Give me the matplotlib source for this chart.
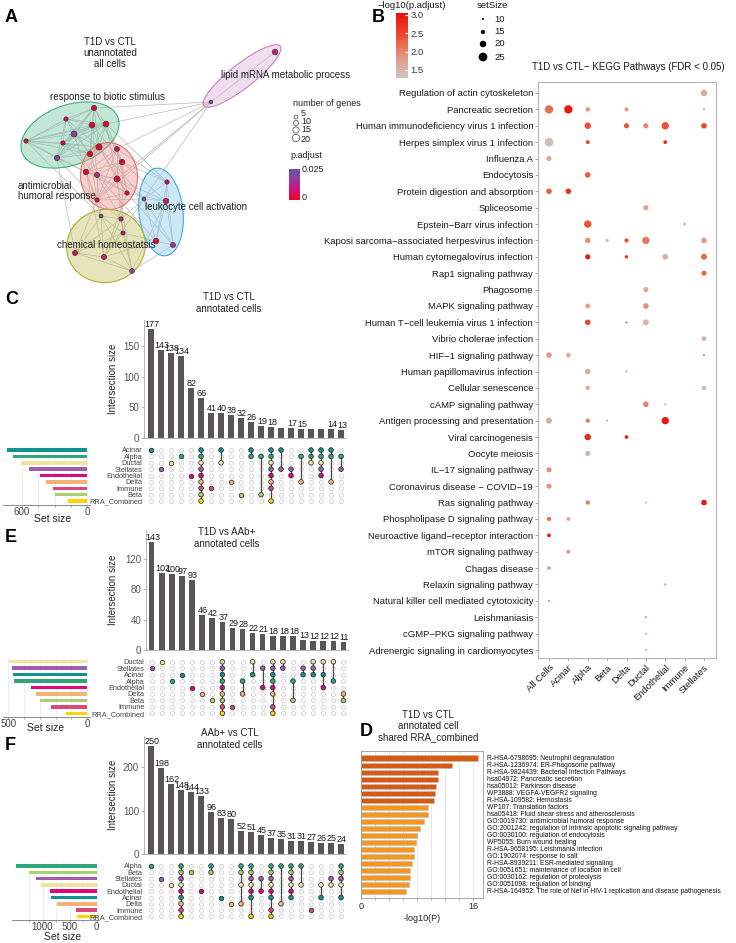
import itertools
import numpy as np
import matplotlib
matplotlib.use("Agg")
import matplotlib.pyplot as plt
import matplotlib.transforms as mtransforms
from matplotlib.patches import Ellipse
from matplotlib.colors import LinearSegmentedColormap, to_rgba

plt.rcParams['font.family'] = ['Liberation Sans', 'DejaVu Sans']

W, H = 736, 943
fig = plt.figure(figsize=(W / 100, H / 100), dpi=100)


def px_axes(x0, y0, x1, y1):
    # axes placed by pixel box (top-left origin)
    return fig.add_axes([x0 / W, 1 - y1 / H, (x1 - x0) / W, (y1 - y0) / H])


def ftext(x, y, s, **kw):
    fig.text(x / W, 1 - y / H, s, **kw)


# ---------------- data: panel A (enrichment map) ----------------
node_x = [94, 66, 92, 106, 74, 63, 26, 99, 90, 57,
          117, 122, 86, 97, 117, 127, 97,
          167, 144, 166, 156, 173,
          101, 121, 123, 75, 104, 132,
          275, 211]
node_y = [108, 119, 125, 124, 134, 143, 141, 147, 154, 158,
          149, 162, 172, 175, 179, 193, 200,
          182, 199, 201, 241, 245,
          216, 219, 233, 253, 257, 271,
          52, 102]
node_genes = [11, 7, 13, 13, 14, 7, 7, 15, 12, 11,
              9, 12, 12, 10, 14, 7, 7,
              7, 5, 11, 12, 10,
              5, 7, 6, 10, 10, 9,
              12, 4]
node_padj = [0.002, 0.003, 0.001, 0.001, 0.018, 0.003, 0.004, 0.001, 0.002, 0.019,
             0.003, 0.001, 0.002, 0.012, 0.001, 0.003, 0.004,
             0.004, 0.020, 0.008, 0.002, 0.013,
             0.025, 0.010, 0.004, 0.003, 0.010, 0.018,
             0.009, 0.025]
clusters = [list(range(0, 10)), list(range(10, 17)), list(range(17, 22)),
            list(range(22, 28)), [28, 29]]
cross_edges = [(0, 10), (2, 11), (3, 14), (7, 12), (8, 13), (4, 12), (7, 14), (3, 10),
               (8, 16), (9, 12), (2, 13), (0, 11), (6, 12), (5, 13), (7, 15), (9, 16),
               (11, 17), (14, 18), (15, 19), (10, 17), (14, 19), (16, 18), (13, 20),
               (15, 21), (11, 19), (12, 22), (13, 23), (14, 24), (16, 25), (15, 26),
               (12, 26), (16, 23), (14, 27), (13, 22), (11, 24), (18, 23), (20, 24),
               (19, 27), (21, 27), (18, 26), (20, 26), (9, 25), (6, 22), (3, 17),
               (7, 18), (29, 0), (29, 10), (29, 3), (29, 14), (29, 16), (29, 18)]
cluster_labels = ["response to biotic stimulus", "antimicrobial\nhumoral response",
                  "leukocyte cell activation", "chemical homeostatsis",
                  "lipid mRNA metabolic process"]

# ---------------- data: panel B (KEGG dot plot) ----------------
kegg_pathways = [
    "Regulation of actin cytoskeleton", "Pancreatic secretion",
    "Human immunodeficiency virus 1 infection", "Herpes simplex virus 1 infection",
    "Influenza A", "Endocytosis", "Protein digestion and absorption", "Spliceosome",
    "Epstein\u2212Barr virus infection", "Kaposi sarcoma\u2212associated herpesvirus infection",
    "Human cytomegalovirus infection", "Rap1 signaling pathway", "Phagosome",
    "MAPK signaling pathway", "Human T\u2212cell leukemia virus 1 infection",
    "Vibrio cholerae infection", "HIF\u22121 signaling pathway",
    "Human papillomavirus infection", "Cellular senescence", "cAMP signaling pathway",
    "Antigen processing and presentation", "Viral carcinogenesis", "Oocyte meiosis",
    "IL\u221217 signaling pathway", "Coronavirus disease \u2212 COVID\u221219",
    "Ras signaling pathway", "Phospholipase D signaling pathway",
    "Neuroactive ligand\u2212receptor interaction", "mTOR signaling pathway",
    "Chagas disease", "Relaxin signaling pathway",
    "Natural killer cell mediated cytotoxicity", "Leishmaniasis",
    "cGMP\u2212PKG signaling pathway", "Adrenergic signaling in cardiomyocytes"]
cell_types_b = ["All Cells", "Acinar", "Alpha", "Beta", "Delta", "Ductal",
                "Endothelial", "Immune", "Stellates"]
dot_row = [0, 1, 1, 1, 1, 1, 2, 2, 2, 2, 2, 3, 3, 3, 4, 5, 6, 6, 7, 8, 8,
           9, 9, 9, 9, 9, 10, 10, 10, 10, 11, 12, 13, 13, 14, 14, 14, 15,
           16, 16, 16, 17, 17, 18, 18, 19, 19, 20, 20, 20, 20, 21, 21, 22,
           23, 24, 25, 25, 25, 26, 26, 27, 28, 29, 30, 31, 32, 33, 34]
dot_cell = ["Stellates",
            "All Cells", "Acinar", "Alpha", "Delta", "Stellates",
            "Alpha", "Delta", "Ductal", "Endothelial", "Stellates",
            "All Cells", "Alpha", "Endothelial",
            "All Cells", "Alpha", "All Cells", "Acinar", "Ductal",
            "Alpha", "Immune",
            "Alpha", "Beta", "Delta", "Ductal", "Stellates",
            "Alpha", "Delta", "Endothelial", "Stellates",
            "Stellates", "Ductal", "Alpha", "Ductal",
            "Alpha", "Delta", "Ductal", "Stellates",
            "All Cells", "Acinar", "Stellates", "Alpha", "Delta",
            "Alpha", "Stellates", "Ductal", "Endothelial",
            "All Cells", "Alpha", "Beta", "Endothelial",
            "Alpha", "Delta", "Alpha", "All Cells", "All Cells",
            "Alpha", "Ductal", "Stellates", "All Cells", "Acinar",
            "All Cells", "Acinar", "All Cells", "Endothelial", "All Cells",
            "Ductal", "Ductal", "Ductal"]
dot_setsize = [20,
               24, 24, 15, 15, 11,
               20, 17, 17, 22, 18,
               25, 14, 14,
               17, 18, 18, 18, 17,
               22, 12,
               18, 13, 15, 22, 18,
               17, 13, 18, 19,
               17, 17, 16, 18,
               18, 10, 19, 16,
               18, 16, 10, 18, 10,
               15, 15, 18, 10,
               19, 15, 10, 22,
               20, 14, 17, 17, 17,
               15, 10, 18, 15, 14,
               14, 15, 15, 10, 10,
               10, 10, 10]
dot_logp = [1.6,
            2.2, 3.0, 1.9, 1.8, 1.6,
            2.4, 2.4, 2.0, 2.4, 2.5,
            1.4, 2.6, 2.8,
            1.7, 2.3, 2.3, 2.7, 1.7,
            2.4, 1.5,
            1.9, 1.4, 2.4, 2.1, 1.8,
            3.0, 2.8, 1.6, 2.2,
            2.2, 1.6, 1.8, 1.9,
            2.5, 2.2, 1.5, 1.5,
            1.8, 1.6, 2.3, 1.6, 1.8,
            1.7, 1.6, 2.0, 1.6,
            1.6, 2.1, 1.8, 3.0,
            2.8, 2.8, 1.5, 1.9, 1.9,
            2.1, 1.6, 3.0, 2.2, 1.7,
            3.0, 1.7, 1.5, 2.0, 2.0,
            2.0, 1.8, 1.7]

# ---------------- data: UpSet panels C, E, F ----------------
set_colors = {"Acinar": "#12938F", "Alpha": "#2FA67A", "Ductal": "#EDE59E",
              "Stellates": "#A05DAF", "Endothelial": "#E0077D", "Delta": "#F3B276",
              "Immune": "#D6497A", "Beta": "#A9CF6E", "RRA_Combined": "#FFD400"}

c_sets = ["Acinar", "Alpha", "Ductal", "Stellates", "Endothelial", "Delta",
          "Immune", "Beta", "RRA_Combined"]
c_set_sizes = [738, 686, 609, 535, 434, 378, 317, 295, 175]
c_inter = [177, 143, 138, 134, 82, 66, 41, 40, 38, 32, 26, 19, 18, 17, 17, 15, 15, 14, 14, 13]
c_shown = [1, 1, 1, 1, 1, 1, 1, 1, 1, 1, 1, 1, 1, 0, 1, 1, 0, 0, 1, 1]
c_combos = [["Acinar"], ["Stellates"], ["Ductal"], ["Alpha"], ["Endothelial"],
            c_sets, ["Immune"], ["Acinar", "Ductal"], ["Delta"], ["Beta"],
            ["Acinar", "Alpha"], ["Alpha", "Beta"],
            ["Acinar", "Alpha", "Ductal", "Stellates", "Endothelial", "Delta", "Immune",
             "RRA_Combined"],
            ["Acinar", "Stellates"], ["Stellates", "Endothelial"], ["Alpha", "Delta"],
            ["Acinar", "Alpha", "Ductal"],
            ["Acinar", "Alpha", "Ductal", "Stellates", "Endothelial"],
            ["Acinar", "Alpha", "Delta"], ["Alpha", "Stellates"]]

e_sets = ["Ductal", "Stellates", "Acinar", "Alpha", "Endothelial", "Delta", "Beta",
          "Immune", "RRA_Combined"]
e_set_sizes = [496, 479, 469, 465, 355, 324, 297, 231, 133]
e_inter = [143, 102, 100, 97, 93, 46, 42, 37, 29, 28, 22, 21, 18, 18, 18, 13, 12, 12, 12, 11]
e_shown = [1] * 20
e_combos = [["Stellates"], ["Ductal"], ["Alpha"], ["Acinar"], ["Endothelial"], ["Delta"],
            ["Beta"], e_sets, ["Immune"], ["Alpha", "Delta"], ["Ductal", "Acinar"],
            ["Stellates", "Endothelial"],
            ["Ductal", "Stellates", "Acinar", "Alpha", "Endothelial", "Delta", "Immune",
             "RRA_Combined"],
            ["Ductal", "Stellates"], ["Alpha", "Beta"], ["Stellates", "Acinar"],
            ["Ductal", "Stellates", "Acinar"], ["Ductal", "Acinar", "Endothelial"],
            ["Ductal", "Alpha"], ["Delta", "Beta"]]

f_sets = ["Alpha", "Beta", "Stellates", "Ductal", "Endothelial", "Acinar", "Delta",
          "Immune", "RRA_Combined"]
f_set_sizes = [1491, 1244, 1120, 1033, 861, 848, 726, 380, 356]
f_inter = [250, 198, 162, 148, 144, 133, 96, 83, 80, 52, 51, 45, 37, 35, 31, 31, 27, 26, 25, 24]
f_shown = [1] * 20
f_combos = [["Alpha"], ["Stellates"], ["Ductal"], f_sets, ["Beta"], ["Endothelial"],
            ["Alpha", "Beta"], ["Acinar"], ["Delta"], ["Alpha", "Beta", "Ductal", "Delta"],
            ["Alpha", "Beta", "Stellates", "Ductal", "Endothelial", "Acinar", "RRA_Combined"],
            ["Stellates", "Endothelial"],
            ["Alpha", "Beta", "Stellates", "Ductal", "Endothelial", "Acinar", "Immune",
             "RRA_Combined"],
            ["Alpha", "Delta"],
            ["Alpha", "Beta", "Stellates", "Ductal", "Endothelial", "Acinar"],
            ["Alpha", "Ductal"], ["Immune"], ["Ductal", "Acinar"], ["Stellates", "Ductal"],
            ["Alpha", "Beta", "Stellates", "Ductal", "Acinar"]]

# ---------------- data: panel D (Metascape bars) ----------------
d_terms = ["R-HSA-6798695: Neutrophil degranulation",
           "R-HSA-1236974: ER-Phagosome pathway",
           "R-HSA-9824439: Bacterial Infection Pathways",
           "hsa04972: Pancreatic secretion",
           "hsa05012: Parkinson disease",
           "WP3888: VEGFA-VEGFR2 signaling",
           "R-HSA-109582: Hemostasis",
           "WP107: Translation factors",
           "hsa05418: Fluid shear stress and atherosclerosis",
           "GO:0019730: antimicrobial humoral response",
           "GO:2001242: regulation of intrinsic apoptotic signaling pathway",
           "GO:0030100: regulation of endocytosis",
           "WP5055: Burn wound healing",
           "R-HSA-9658195: Leishmania infection",
           "GO:1902074: response to salt",
           "R-HSA-8939211: ESR-mediated signaling",
           "GO:0051651: maintenance of location in cell",
           "GO:0030162: regulation of proteolysis",
           "GO:0051098: regulation of binding",
           "R-HSA-164952: The role of Nef in HIV-1 replication and disease pathogenesis"]
d_logp = [16.75, 13.06, 11.06, 10.97, 10.73, 10.54, 10.49, 9.55, 9.55, 9.02,
          8.45, 8.07, 7.88, 7.60, 7.55, 7.36, 7.02, 6.98, 6.88, 6.41]

# ================= panel A =================
axA = px_axes(0, 0, 370, 290)
axA.set_xlim(0, 370)
axA.set_ylim(290, 0)
axA.axis('off')

padj_cmap = LinearSegmentedColormap.from_list("padj", ["#EE0022", "#D0127A", "#9A3A9E", "#5A5AAE"])

edges = [p for cl in clusters for p in itertools.combinations(cl, 2)] + cross_edges
for a, b in edges:
    axA.plot([node_x[a], node_x[b]], [node_y[a], node_y[b]], color='#B8B8B8', lw=0.5, zorder=1)

ell_x = [70, 109, 161, 106, 242]
ell_y = [135, 176, 212, 246, 76]
ell_w = [102, 57, 44, 79, 97]
ell_h = [60, 67, 88, 73, 24]
ell_ang = [-20, -5, -6, -12, -38]
ell_fill = ["#7CC9A5", "#F09A9A", "#8FCDEE", "#C9C46A", "#E3B3DC"]
ell_edge = ["#3FAE7C", "#E8706E", "#3FA9DE", "#B5AE2E", "#CC80C2"]
for cx, cy, w, h, ang, fc, ec in zip(ell_x, ell_y, ell_w, ell_h, ell_ang, ell_fill, ell_edge):
    axA.add_patch(Ellipse((cx, cy), w, h, angle=ang, facecolor=to_rgba(fc, 0.45),
                          edgecolor=ec, lw=0.8, zorder=2))


def gene_size(g):
    d = 2.6 + np.asarray(g) * 0.24
    return (d * 0.72) ** 2


axA.scatter(node_x, node_y, s=gene_size(node_genes), c=node_padj, cmap=padj_cmap,
            vmin=0, vmax=0.025, edgecolors='#3a3a3a', linewidths=0.5, zorder=3)

lab_x = [50, 18, 145, 57, 221]
lab_y = [97, 191, 207, 245, 75]
for t, x, y in zip(cluster_labels, lab_x, lab_y):
    axA.text(x, y, t, fontsize=7, color='#222222', va='center', ha='left', zorder=4,
             linespacing=1.1)
axA.text(110, 53, "T1D vs CTL\nunannotated\nall cells", fontsize=7, ha='center', va='center',
         linespacing=1.15, color='#222222')

# legend: number of genes
legend_genes = [5, 10, 15, 20]
axA.text(293, 103, "number of genes", fontsize=6.5, va='center', color='#222222')
axA.scatter([296] * 4, [117, 123, 130, 138], s=gene_size(legend_genes), facecolor='white',
            edgecolor='#444444', linewidths=0.5)
for g, y in zip(legend_genes, [113, 121, 130, 140]):
    axA.text(301, y, str(g), fontsize=6.5, va='center', color='#222222')
axA.text(290, 156, "p.adjust", fontsize=6.5, va='center', color='#222222')
axA.text(302, 169, "0.025", fontsize=6.5, va='center', color='#222222')
axA.text(302, 198, "0", fontsize=6.5, va='center', color='#222222')
axPc = px_axes(289, 169, 300, 200)
axPc.imshow(np.linspace(0, 1, 100).reshape(-1, 1), cmap=padj_cmap, aspect='auto', origin='lower')
axPc.axis('off')

# ================= panel B =================
kegg_cmap = LinearSegmentedColormap.from_list("kegg", ["#CDC8C8", "#E4957F", "#EC4A2E", "#E8120C"])
vmin_b, vmax_b = 1.28, 3.05

axB = px_axes(538, 82, 716, 658)
col_sp = (704 - 549) / 8
row_sp = (650 - 93) / 34
xs = [cell_types_b.index(c) for c in dot_cell]


def set_size_area(n):
    d = 2.0 + (np.asarray(n) - 10) * 0.45
    return (d * 0.72) ** 2


axB.scatter(xs, dot_row, s=set_size_area(dot_setsize), c=dot_logp, cmap=kegg_cmap,
            vmin=vmin_b, vmax=vmax_b, linewidths=0, zorder=3)
axB.set_xlim((538 - 549) / col_sp, 8 + (716 - 704) / col_sp)
axB.set_ylim(34 + (658 - 650) / row_sp, -(93 - 82) / row_sp)
axB.set_yticks(range(len(kegg_pathways)))
axB.set_yticklabels(kegg_pathways, fontsize=6.8, color='#1a1a1a')
axB.set_xticks(range(len(cell_types_b)))
axB.set_xticklabels(cell_types_b, fontsize=6.8, color='#1a1a1a', rotation=45, ha='right',
                    va='top', rotation_mode='anchor')
axB.tick_params(length=2, width=0.5, color='#888888', pad=1.5)
for sp in axB.spines.values():
    sp.set_color('#B5B5B5')
    sp.set_linewidth(0.8)
ftext(628, 67, "T1D vs CTL\u2212 KEGG Pathways (FDR < 0.05)", fontsize=7, ha='center',
      va='center', color='#1a1a1a')

# colour bar legend
ftext(378, 6, "\u2212log10(p.adjust)", fontsize=6.8, va='center', color='#1a1a1a')
axBc = px_axes(396, 13, 408, 78)
axBc.imshow(np.linspace(vmin_b, vmax_b, 200).reshape(-1, 1), cmap=kegg_cmap, aspect='auto',
            origin='lower', extent=[0, 1, vmin_b, vmax_b], vmin=vmin_b, vmax=vmax_b)
axBc.set_xticks([])
axBc.yaxis.tick_right()
axBc.set_yticks([1.5, 2.0, 2.5, 3.0])
axBc.set_yticklabels(["1.5", "2.0", "2.5", "3.0"], fontsize=6.8, color='#333333')
axBc.tick_params(axis='y', length=2, color='white', direction='in', pad=2)
for sp in axBc.spines.values():
    sp.set_visible(False)

# setSize legend
legend_setsize = [10, 15, 20, 25]
ftext(477, 6, "setSize", fontsize=6.8, va='center', color='#1a1a1a')
axBs = px_axes(470, 10, 520, 64)
axBs.set_xlim(470, 520)
axBs.set_ylim(64, 10)
axBs.axis('off')
axBs.scatter([483] * 4, [19, 32, 44, 57], s=set_size_area(legend_setsize), color='black',
             linewidths=0)
for v, y in zip(legend_setsize, [19, 32, 44, 57]):
    axBs.text(494, y, str(v), fontsize=6.8, va='center', color='#1a1a1a')


# ================= UpSet panels =================
def draw_upset(sets, sizes, inter, shown, combos, g):
    n = len(inter)
    xa = (g['left'] - g['col1']) / g['csp']
    xb = (g['right'] - g['col1']) / g['csp']

    ax = px_axes(g['left'], g['top'], g['right'], g['base'])
    ax.patch.set_alpha(0)
    ax.bar(range(n), inter, width=0.55, color='#595657')
    ax.set_xlim(xa, xb)
    ax.set_ylim(0, (g['base'] - g['top']) / g['ppu'])
    for i, (v, s) in enumerate(zip(inter, shown)):
        if s:
            ax.text(i + 0.1, v, str(v), ha='center', va='bottom', fontsize=6.5,
                    color='#1a1a1a')
    ax.set_xticks([])
    ax.set_yticks(g['yticks'])
    ax.set_yticklabels([str(t) for t in g['yticks']], fontsize=7, color='#555555')
    ax.tick_params(axis='y', length=2, width=0.5, color='#999999', pad=1.5)
    for k in ['top', 'right']:
        ax.spines[k].set_visible(False)
    for k in ['left', 'bottom']:
        ax.spines[k].set_color('#AAAAAA')
        ax.spines[k].set_linewidth(0.6)
    ax.set_ylabel("Intersection size", fontsize=7, color='#222222')
    ax.yaxis.set_label_coords((118 - g['left']) / (g['right'] - g['left']), 0.5)

    nrow = len(sets)
    rtop = g['row1'] - 4
    rbot = g['row1'] + (nrow - 1) * g['rsp'] + 4
    ylo = (rbot - g['row1']) / g['rsp']
    yhi = (rtop - g['row1']) / g['rsp']

    axs = px_axes(g['ss_left'], rtop, g['ss_right'], rbot)
    axs.patch.set_alpha(0)
    axs.barh(range(nrow), sizes, height=0.55, color=[set_colors[s] for s in sets], zorder=2)
    axs.set_xlim((g['ss_zero'] - g['ss_left']) / g['ss_ppu'],
                 (g['ss_zero'] - g['ss_right']) / g['ss_ppu'])
    axs.set_ylim(ylo, yhi)
    axs.set_yticks([])
    axs.set_xticks(g['ss_ticks'])
    axs.set_xticklabels([str(t) for t in g['ss_ticks']], fontsize=7, color='#444444')
    axs.set_xticks(g['ss_grid'], minor=True)
    axs.grid(axis='x', which='both', color='#E8E8E8', lw=0.5, zorder=0)
    axs.tick_params(axis='x', which='both', length=1.5, width=0.5, color='#888888', pad=0)
    for k in ['top', 'right', 'left']:
        axs.spines[k].set_visible(False)
    axs.spines['bottom'].set_color('#777777')
    axs.spines['bottom'].set_linewidth(0.6)
    ftext(g['ss_lab_x'], g['ss_lab_y'], "Set size", fontsize=7.5, ha='center', va='center',
          color='#222222')

    axm = px_axes(g['left'], rtop, g['right'], rbot)
    axm.patch.set_alpha(0)
    axm.set_xlim(xa, xb)
    axm.set_ylim(ylo, yhi)
    gx, gy = np.meshgrid(range(n), range(nrow))
    axm.scatter(gx.ravel(), gy.ravel(), s=8, facecolor='white', edgecolor='#C4C4C4',
                linewidths=0.5, zorder=1)
    for i, combo in enumerate(combos):
        rows = [sets.index(c) for c in combo]
        if len(rows) > 1:
            axm.plot([i, i], [min(rows), max(rows)], color='#444444', lw=0.8, zorder=2)
        axm.scatter([i] * len(rows), rows, s=11, c=[set_colors[sets[r]] for r in rows],
                    edgecolor='#222222', linewidths=0.5, zorder=3)
    axm.set_xticks([])
    axm.set_yticks(range(nrow))
    axm.set_yticklabels(sets, fontsize=5.3, color='#444444')
    axm.tick_params(length=0, pad=1)
    for sp in axm.spines.values():
        sp.set_visible(False)

    ftext(g['title_x'], g['title_y'], g['title'], fontsize=7, ha='center', va='center',
          linespacing=1.15, color='#222222')


geo_c = dict(left=144, right=346, col1=151, csp=10.0, top=320, base=438, ppu=0.6133,
             yticks=[0, 50, 100, 150], row1=450, rsp=6.38, ss_left=3, ss_right=90,
             ss_zero=87, ss_ppu=0.1083, ss_ticks=[600, 0], ss_grid=[150, 300, 450],
             ss_lab_x=53, ss_lab_y=519,
             title="T1D vs CTL\nannotated cells", title_x=229, title_y=303)
geo_e = dict(left=146, right=348, col1=151.7, csp=10.09, top=530, base=650, ppu=0.758,
             yticks=[0, 40, 80, 120], row1=661.7, rsp=6.45, ss_left=3, ss_right=90,
             ss_zero=87.3, ss_ppu=0.158, ss_ticks=[500, 0], ss_grid=[100, 200, 300, 400],
             ss_lab_x=46, ss_lab_y=728,
             title="T1D vs AAb+\nannotated cells", title_x=227, title_y=538)
geo_f = dict(left=144, right=346, col1=151, csp=10.0, top=736, base=854, ppu=0.433,
             yticks=[0, 100, 200], row1=866, rsp=6.3, ss_left=12, ss_right=99,
             ss_zero=96.5, ss_ppu=0.054, ss_ticks=[1000, 500, 0], ss_grid=[250, 750, 1250],
             ss_lab_x=63, ss_lab_y=937.5,
             title="AAb+ vs CTL\nannotated cells", title_x=230, title_y=739)

draw_upset(c_sets, c_set_sizes, c_inter, c_shown, c_combos, geo_c)
draw_upset(e_sets, e_set_sizes, e_inter, e_shown, e_combos, geo_e)
draw_upset(f_sets, f_set_sizes, f_inter, f_shown, f_combos, geo_f)

# ================= panel D =================
axD = px_axes(360.7, 751, 483, 898)
d_sp = 7.02
d_ppu = (473 - 360.7) / 16
d_colors = ['#D65A14' if v >= 10 else '#F5961E' for v in d_logp]
axD.barh(range(len(d_logp)), d_logp, height=0.8, color=d_colors, edgecolor='#BDBDBD',
         linewidth=0.4, zorder=2)
axD.set_xlim(0, (483 - 360.7) / d_ppu)
axD.set_ylim((898 - 758.3) / d_sp, (751 - 758.3) / d_sp)
axD.set_yticks([])
axD.set_xticks(range(0, 17, 2))
axD.set_xticklabels(['0'] + [''] * 7 + ['16'], fontsize=6.5, color='#222222')
axD.grid(axis='x', color='#DDDDDD', lw=0.5, zorder=0)
axD.tick_params(axis='x', length=1.5, width=0.5, color='#888888', pad=1.5)
for sp in axD.spines.values():
    sp.set_color('#999999')
    sp.set_linewidth(0.6)
axD.set_xlabel("-log10(P)", fontsize=6.5, labelpad=2, color='#222222')
trD = mtransforms.blended_transform_factory(axD.transAxes, axD.transData)
for i, t in enumerate(d_terms):
    axD.text(1.03, i, t, transform=trD, fontsize=4.9, va='center', ha='left', color='#111111')
ftext(428, 726, "T1D vs CTL\nannotated cell\nshared RRA_combined", fontsize=7, ha='center',
      va='center', linespacing=1.15, color='#222222')

# ================= panel letters =================
for letter, x, y in [("A", 5, 17), ("B", 372, 17), ("C", 5, 300), ("E", 5, 537),
                     ("F", 5, 745), ("D", 360, 732)]:
    ftext(x, y, letter, fontsize=13, fontweight='bold', va='center', ha='left')

fig.savefig("out.png", dpi=100)
